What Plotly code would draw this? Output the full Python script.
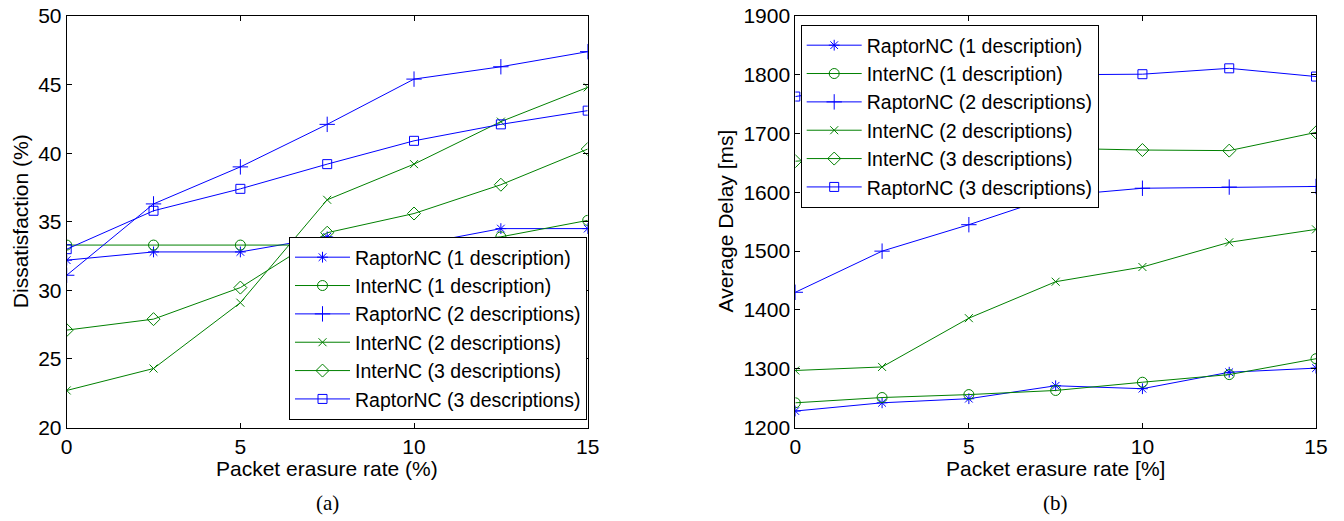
import plotly.graph_objects as go

x = [0, 2.5, 5, 7.5, 10, 12.5, 15]

names = ["RaptorNC (1 description)", "InterNC (1 description)", "RaptorNC (2 descriptions)",
         "InterNC (2 descriptions)", "InterNC (3 descriptions)", "RaptorNC (3 descriptions)"]

# (a) Dissatisfaction (%)
diss_raptor1 = [32.2, 32.8, 32.8, 33.9, 33.3, 34.5, 34.5]
diss_inter1 = [33.3, 33.3, 33.3, 33.3, 33.3, 33.9, 35.1]
diss_raptor2 = [31.1, 36.3, 39.0, 42.1, 45.4, 46.3, 47.4]
diss_inter2 = [22.7, 24.3, 29.1, 36.6, 39.2, 42.3, 44.8]
diss_inter3 = [27.1, 27.9, 30.2, 34.2, 35.6, 37.7, 40.3]
diss_raptor3 = [33.0, 35.8, 37.4, 39.2, 40.9, 42.1, 43.1]

# (b) Average Delay [ms]
delay_raptor1 = [1228, 1242, 1249, 1271, 1266, 1294, 1301]
delay_inter1 = [1242, 1251, 1256, 1263, 1277, 1290, 1317]
delay_raptor2 = [1430, 1500, 1545, 1594, 1607, 1609, 1610]
delay_inter2 = [1297, 1303, 1386, 1448, 1473, 1515, 1537]
delay_inter3 = [1653, 1662, 1670, 1675, 1672, 1671, 1702]
delay_raptor3 = [1763, 1785, 1795, 1800, 1801, 1811, 1797]

BLUE = "#0000ff"
GREEN = "#008000"
colors = [BLUE, GREEN, BLUE, GREEN, GREEN, BLUE]
symbols = ["asterisk-open", "circle-open", "cross-thin-open", "x-thin-open", "diamond-open", "square-open"]
sizes = [9, 10, 11, 8, 10, 9]

FONT = "Liberation Sans, Arial, sans-serif"

fig = go.Figure()

left_series = [diss_raptor1, diss_inter1, diss_raptor2, diss_inter2, diss_inter3, diss_raptor3]
right_series = [delay_raptor1, delay_inter1, delay_raptor2, delay_inter2, delay_inter3, delay_raptor3]

for i, (nm, ys) in enumerate(zip(names, left_series)):
    fig.add_trace(go.Scatter(
        x=x, y=ys, name=nm, mode="lines+markers", xaxis="x", yaxis="y", legend="legend",
        line=dict(color=colors[i], width=1),
        marker=dict(symbol=symbols[i], size=sizes[i], color=colors[i], line=dict(color=colors[i], width=1)),
    ))
for i, (nm, ys) in enumerate(zip(names, right_series)):
    fig.add_trace(go.Scatter(
        x=x, y=ys, name=nm, mode="lines+markers", xaxis="x2", yaxis="y2", legend="legend2",
        line=dict(color=colors[i], width=1),
        marker=dict(symbol=symbols[i], size=sizes[i], color=colors[i], line=dict(color=colors[i], width=1)),
    ))

W, H = 1344, 521
top, bottom = 16, 427.5
ydom = [1 - bottom / H, 1 - top / H]

axis_common = dict(showline=True, mirror="ticks", linecolor="black", linewidth=1,
                   ticks="inside", ticklen=5, tickcolor="black", tickwidth=1,
                   showgrid=False, zeroline=False, automargin=False,
                   tickfont=dict(family=FONT, size=21, color="black"))

legend_common = dict(font=dict(family=FONT, size=19.5, color="black"), bgcolor="white",
                     bordercolor="black", borderwidth=1, itemwidth=55, tracegroupgap=0)

fig.update_layout(
    template="none",
    width=W, height=H,
    margin=dict(l=0, r=0, t=0, b=0, pad=0),
    paper_bgcolor="white", plot_bgcolor="white",
    xaxis=dict(domain=[66.7 / W, 587.7 / W], range=[0, 15], tickvals=[0, 5, 10, 15], anchor="y", **axis_common),
    yaxis=dict(domain=ydom, range=[20, 50], tickvals=[20, 25, 30, 35, 40, 45, 50], anchor="x", **axis_common),
    xaxis2=dict(domain=[795.3 / W, 1316 / W], range=[0, 15], tickvals=[0, 5, 10, 15], anchor="y2", **axis_common),
    yaxis2=dict(domain=ydom, range=[1200, 1900], tickvals=list(range(1200, 1901, 100)), anchor="x2", **axis_common),
    legend=dict(x=587 / W, y=1 - 420 / H, xanchor="right", yanchor="bottom", **legend_common),
    legend2=dict(x=800.7 / W, y=1 - 25 / H, xanchor="left", yanchor="top", **legend_common),
    showlegend=True,
)

ann_font = dict(family=FONT, size=21, color="black")
serif = dict(family="Liberation Serif, Times New Roman, serif", size=21, color="black")
annotations = [
    dict(text="Packet erasure rate (%)", x=327.2 / W, y=1 - 468 / H, font=ann_font),
    dict(text="Packet erasure rate [%]", x=1055.7 / W, y=1 - 468 / H, font=ann_font),
    dict(text="(a)", x=327.2 / W, y=1 - 503 / H, font=serif),
    dict(text="(b)", x=1055.7 / W, y=1 - 503 / H, font=serif),
    dict(text="Dissatisfaction (%)", x=20.7 / W, y=1 - 221.5 / H, font=ann_font, textangle=-90),
    dict(text="Average Delay [ms]", x=725 / W, y=1 - 221.5 / H, font=ann_font, textangle=-90),
]
for a in annotations:
    a.update(xref="paper", yref="paper", showarrow=False, xanchor="center", yanchor="middle")
fig.update_layout(annotations=annotations)

fig.write_html("out.html", config={"displayModeBar": False},
               post_script="document.body.style.margin='0px';document.body.style.overflow='hidden';")
